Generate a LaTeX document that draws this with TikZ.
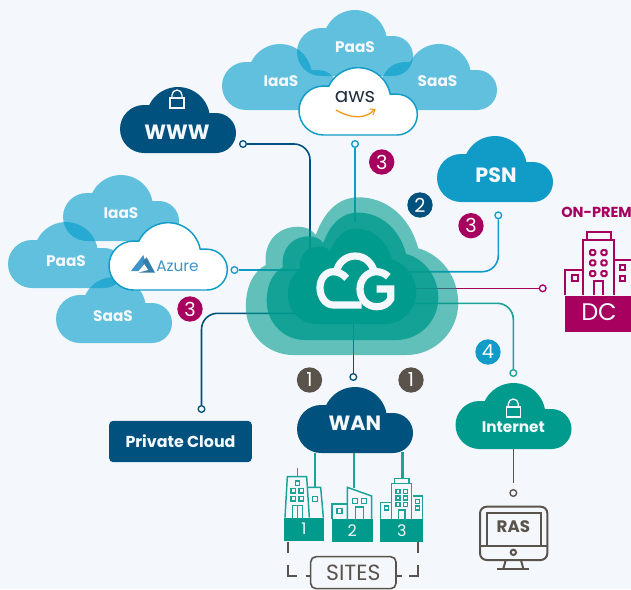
\documentclass[tikz,border=0pt]{standalone}
\usepackage{fontspec}
\setmainfont{Poppins}
\definecolor{pagebg}{HTML}{F4F8FC}
\definecolor{navy}{HTML}{00517D}
\definecolor{teal}{HTML}{009B8D}
\definecolor{sky}{HTML}{119CC7}
\definecolor{svc}{HTML}{009CC9}
\definecolor{plum}{HTML}{A8005F}
\definecolor{stone}{HTML}{5A534C}
\definecolor{line teal}{HTML}{1CA296}
\definecolor{azureblue}{HTML}{3E93C8}
\definecolor{awsdark}{HTML}{232F3E}
\definecolor{awsorange}{HTML}{F79A1C}
\tikzstyle{label} = [inner sep=0pt, text=pagebg, font=\fontsize{11.5}{12}\selectfont\bfseries]
\tikzstyle{biglabel} = [inner sep=0pt, text=pagebg, font=\fontsize{15.5}{16}\selectfont\bfseries]
\tikzstyle{badge} = [circle, inner sep=0pt, minimum size=19pt, text=white, font=\fontsize{14.5}{15}\selectfont]
\tikzstyle{dot} = [circle, inner sep=0pt, minimum size=5pt, line width=1pt, fill=pagebg, draw]
\tikzstyle{wire} = [line width=1.2pt, rounded corners=12pt]
\tikzstyle{svccloud} = [fill=svc, fill opacity=.6]
\tikzstyle{hostcloud} = [fill=white, draw=sky, line width=1.1pt]
\tikzstyle{site} = [draw=line teal, line width=1.1pt]
\tikzstyle{dcline} = [draw=plum, line width=1.5pt]
\tikzstyle{mon} = [draw=stone, line width=1.5pt]
\tikzstyle{logo} = [draw=pagebg, line width=5.4pt]
\tikzstyle{bracket} = [stone, line width=1.5pt]
\tikzset{
  pics/cloudshape/.style={code={
    \path[pic actions] (24,0) arc[start angle=270,end angle=90,radius=24] -- (29.24,48)
      arc[start angle=154,end angle=10.8,radius=32] -- (96,40)
      arc[start angle=90,end angle=-90,radius=20] -- cycle;
  }},
  pics/hubshape/.style={code={
    \path[pic actions] (-58.8,0) .. controls (-85.5,0) and (-106.2,21.7) .. (-106.2,48.3)
      .. controls (-106.2,68.3) and (-98.8,83.3) .. (-86.2,90)
      .. controls (-88.8,111.7) and (-75.5,128.3) .. (-53.8,128.3)
      .. controls (-47.2,128.3) and (-40.5,126) .. (-36.2,120)
      .. controls (-27.2,145) and (-12.2,157.7) .. (6.2,157.7)
      .. controls (34.5,157.7) and (57.8,138.3) .. (66.2,106.7)
      .. controls (89.5,100) and (106.2,78.3) .. (106.2,51.7)
      .. controls (106.2,23.3) and (82.8,0) .. (54.5,0) -- cycle;
  }},
  pics/lockicon/.style={code={
    \draw[pic actions] (-7,-5) rectangle (7,5);
    \draw[pic actions] (-5,5) -- (-5,8) arc[start angle=180,end angle=0,radius=5] -- (5,5);
  }}
}
\begin{document}
\begin{tikzpicture}[x=.75pt,y=.75pt]
	\fill[pagebg] (0,0) rectangle (631,-589);
	\useasboundingbox (0,0) rectangle (631,-589);

	% CONNECTORS
	\node[dot,draw=navy] (wwwdot) at (243,-144) {};
	\node[dot,draw=sky] (awsdot) at (355,-144) {};
	\node[dot,draw=sky] (azuredot) at (234.5,-270) {};
	\node[dot,draw=navy] (privdot) at (201.5,-409) {};
	\node[dot,draw=navy] (wandot) at (353.3,-377) {};
	\node[dot,draw=sky] (psndot) at (498.3,-215.3) {};
	\node[dot,draw=plum] (dcdot) at (542.7,-288.3) {};
	\node[dot,draw=line teal] (inetdot) at (513.3,-373) {};
	\node[dot,draw=stone] (rasdot) at (513.3,-493) {};
	\coordinate (wwwend) at (310,-250);
	\coordinate (awsend) at (355,-222);
	\coordinate (azureend) at (300,-270);
	\coordinate (privend) at (295,-313.3);
	\coordinate (wanend) at (353.3,-324);
	\coordinate (psnend) at (410,-271.7);
	\coordinate (dcend) at (415,-288.3);
	\coordinate (inetend) at (413,-303.3);
	\draw[wire,navy] (wwwdot.east) -| (wwwend);
	\draw[wire,sky] (awsdot.south) -- (awsend);
	\draw[wire,sky] (azuredot.east) -- (azureend);
	\draw[wire,navy] (privdot.north) |- (privend);
	\draw[wire,navy] (wandot.north) -- (wanend);
	\draw[wire,sky] (psndot.south) |- (psnend);
	\draw[wire,plum] (dcdot.west) -- (dcend);
	\draw[wire,line teal] (inetdot.north) |- (inetend);

	% HUB
	\pic[fill=teal,fill opacity=.6] at (352,-355) {hubshape};
	\pic[fill=teal,fill opacity=.8,scale=.808] at (352.5,-340) {hubshape};
	\pic[fill=teal,scale=.604] at (352,-324) {hubshape};
	\draw[logo] (346.7,-278.3) .. controls (343,-274) and (338,-271.7) .. (333.3,-271.7)
		.. controls (325.5,-271.7) and (320,-279) .. (320,-287.7)
		.. controls (320,-297.5) and (326,-305) .. (333.3,-305) -- (361.7,-305);
	\draw[logo] (336.5,-273) .. controls (337,-264) and (345,-256) .. (355,-256)
		.. controls (365,-256) and (372,-263) .. (374.3,-272);
	\draw[logo] (388.3,-276.7) .. controls (385,-273.5) and (381,-271.7) .. (376.7,-271.7)
		.. controls (367,-271.7) and (360,-279.5) .. (360,-289)
		.. controls (360,-299) and (367,-306.7) .. (376.7,-306.7)
		.. controls (383,-306.7) and (388,-304) .. (390.7,-299) -- (390.7,-289) -- (376.7,-289);

	% AWS GROUP
	\pic[svccloud] at (222,-110) {cloudshape};
	\pic[svccloud] at (297,-76) {cloudshape};
	\pic[svccloud] at (381,-110) {cloudshape};
	\pic[hostcloud,scale=1.02] at (299,-135) {cloudshape};
	\node[label] (awsiaas) at (281,-81) {IaaS};
	\node[label] (awspaas) at (355,-47) {PaaS};
	\node[label] (awssaas) at (437.5,-81) {SaaS};
	\node[inner sep=0pt,text=awsdark,font=\fontsize{15}{16}\selectfont] (awstext) at (355,-97) {aws};
	\draw[awsorange,line width=1pt] (336,-110) .. controls (353,-120) and (367,-118) .. (374,-110);
	\draw[awsorange,line width=.8pt] (369.5,-109) -- (375,-109.5) -- (373,-115);

	% AZURE GROUP
	\pic[svccloud] at (63,-241) {cloudshape};
	\pic[svccloud] at (8,-288) {cloudshape};
	\pic[svccloud] at (56,-343) {cloudshape};
	\pic[hostcloud,scale=1.02] at (109,-290) {cloudshape};
	\node[label] (aziaas) at (121,-213) {IaaS};
	\node[label] (azpaas) at (66,-261) {PaaS};
	\node[label] (azsaas) at (113,-316) {SaaS};
	\node[inner sep=0pt,text=azureblue,font=\fontsize{11.5}{12}\selectfont] (aztext) at (177.5,-266) {Azure};
	\begin{scope}[shift={(0,-170)},x=.25pt,y=-.25pt]
		\fill[azureblue] (430,255) -- (393,303) -- (415,303) -- (437,278) -- cycle;
		\fill[azureblue!85!black] (440,262) -- (465,308) -- (415,308) -- (445,300) -- (428,275) -- cycle;
	\end{scope}

	% OTHER CLOUDS
	\pic[fill=navy] at (120,-153) {cloudshape};
	\node[biglabel] (www) at (177,-132) {WWW};
	\pic[draw=pagebg,line width=1pt] at (177,-103) {lockicon};
	\pic[fill=sky] at (437,-202) {cloudshape};
	\node[biglabel] (psn) at (496,-175) {PSN};
	\pic[fill=navy] at (297,-453) {cloudshape};
	\node[biglabel] (wan) at (355,-423) {WAN};
	\pic[fill=teal] at (455.5,-449) {cloudshape};
	\node[label] (inet) at (513.3,-427) {Internet};
	\pic[draw=pagebg,line width=1pt] at (513.3,-412) {lockicon};
	\node[rectangle,rounded corners=3pt,fill=navy,minimum width=107pt,minimum height=31pt,inner sep=0pt,
		text=pagebg,font=\fontsize{11.9}{12}\selectfont\bfseries] (priv) at (180.5,-441.5) {Private Cloud};
	\draw[stone,line width=1.2pt] (inet.south |- 0,-449) -- (rasdot.north |- 0,-483);

	% BADGES
	\node[badge,fill=plum] (awsbadge) at (381.7,-162) {3};
	\node[badge,fill=navy] (twobadge) at (420,-205) {2};
	\node[badge,fill=plum] (psnbadge) at (471,-225.7) {3};
	\node[badge,fill=plum] (azbadge) at (190,-309) {3};
	\node[badge,fill=stone] (wanleft) at (309.5,-380) {1};
	\node[badge,fill=stone] (wanright) at (411,-380) {1};
	\node[badge,fill=sky] (inetbadge) at (488,-352) {4};

	% SITES
	\begin{scope}[shift={(270,-380)},x=.25pt,y=-.25pt]
		\draw[line teal,line width=1.9pt] (135,220) -- (135,320);
		\draw[line teal,line width=1.9pt] (252,220) -- (252,325);
		\draw[line teal,line width=1.9pt] (397,215) -- (397,295);
		% site 1
		\draw[site] (45,413) -- (52,290) -- (110,290) -- (118,413);
		\draw[site] (82,265) -- (82,290);
		\draw[site] (113,322) -- (152,322) -- (160,413);
		\draw[site] (76,303) rectangle (89,316);
		\foreach \x in {63,87} \foreach \y in {325,349} \draw[site] (\x,\y) rectangle ++(14,14);
		\draw[site] (128,350) rectangle (142,364);
		\draw[site] (67,413) -- (67,377) -- (97,377) -- (97,413) (82,377) -- (82,413);
		\node[fill=teal,minimum width=30pt,minimum height=17.25pt,inner sep=0pt,text=pagebg,
			font=\fontsize{12}{12}\selectfont] (siteone) at (102,447.5) {1};
		% site 2
		\draw[site] (186,418) -- (186,372) -- (232,372);
		\draw[site] (232,418) -- (232,322) -- (305,348) -- (305,418);
		\draw[site] (201,385) rectangle (216,400);
		\draw[site] (248,355) rectangle (263,370);
		\draw[site] (274,355) rectangle (289,370);
		\draw[site] (257,418) -- (257,381) -- (280,381) -- (280,418);
		\node[fill=teal,minimum width=30.5pt,minimum height=17.25pt,inner sep=0pt,text=pagebg,
			font=\fontsize{12}{12}\selectfont] (sitetwo) at (246.5,452.5) {2};
		% site 3
		\draw[site] (332,418) -- (332,368) -- (365,368);
		\draw[site] (365,418) -- (365,310) -- (425,310) -- (425,418);
		\draw[site] (373,310) -- (373,295) -- (417,295) -- (417,310);
		\draw[site] (428,348) -- (458,348) -- (458,418);
		\draw[site] (343,378) rectangle (355,390);
		\foreach \x in {378,400} \foreach \y in {328,348,368} \draw[site] (\x,\y) rectangle ++(12,12);
		\draw[site] (385,418) -- (385,390) -- (405,390) -- (405,418);
		\draw[site] (436,358) rectangle (448,370);
		\draw[site] (436,378) rectangle (448,390);
		\node[fill=teal,minimum width=32.25pt,minimum height=17.25pt,inner sep=0pt,text=pagebg,
			font=\fontsize{12}{12}\selectfont] (sitethree) at (395.5,452.5) {3};
		% bracket
		\node[rectangle,rounded corners=4pt,draw=stone,line width=1.2pt,minimum width=64pt,minimum height=24pt,
			inner sep=0pt,text=stone,font=\fontsize{16.5}{17}\selectfont] (sites) at (250,578) {SITES};
		\draw[bracket] (55,485) -- (55,518);
		\draw[bracket] (445,485) -- (445,518);
		\draw[bracket] (55,555) -- (55,587) -- (82,587);
		\draw[bracket] (445,555) -- (445,587) -- (418,587);
		\draw[bracket] (108,587) -- (sites.west |- 0,587);
		\draw[bracket] (sites.east |- 0,587) -- (395,587);
	\end{scope}

	% DATA CENTRE
	\node[anchor=west,inner sep=0pt,text=plum,font=\fontsize{10.9}{11}\selectfont\bfseries] (onprem) at (561,-212) {ON-PREM};
	\begin{scope}[shift={(450,-190)},x=.25pt,y=-.25pt]
		\draw[dcline] (345,316) -- (345,240) -- (398,240);
		\draw[dcline] (398,316) -- (398,150) -- (492,150) -- (492,316);
		\draw[dcline] (410,150) -- (410,125) -- (482,125) -- (482,150);
		\draw[dcline] (495,210) -- (550,210);
		\draw[dcline] (365,256) rectangle (383,272);
		\foreach \x in {420,454} \foreach \y in {180,211,243} \draw[dcline,rounded corners=1pt] (\x,\y) rectangle ++(16,15);
		\draw[dcline] (432,316) -- (432,272) -- (460,272) -- (460,316);
		\draw[dcline] (509,226) rectangle (526,241);
		\draw[dcline] (509,257) rectangle (526,272);
		\node[anchor=north west,fill=plum,minimum width=60pt,minimum height=27.25pt,inner sep=0pt] (dcbase) at (345,316) {};
		\node[inner sep=0pt,text=pagebg,font=\fontsize{18}{19}\selectfont] (dc) at (447,365) {DC};
	\end{scope}

	% RAS
	\begin{scope}[shift={(440,-380)},x=.25pt,y=-.25pt]
		\draw[mon,rounded corners=5pt] (120,380) rectangle (322,540);
		\draw[mon] (140,495) -- (140,400) -- (302,400) -- (302,495);
		\draw[mon] (120,497) -- (322,497);
		\draw[mon] (220,517) circle (8);
		\draw[mon] (197,541) -- (190,566) (243,541) -- (250,566);
		\draw[mon] (172,566) -- (268,566);
		\node[inner sep=0pt,text=stone,font=\fontsize{12.5}{13}\selectfont\bfseries] (ras) at (220,440) {RAS};
	\end{scope}
\end{tikzpicture}
\end{document}
